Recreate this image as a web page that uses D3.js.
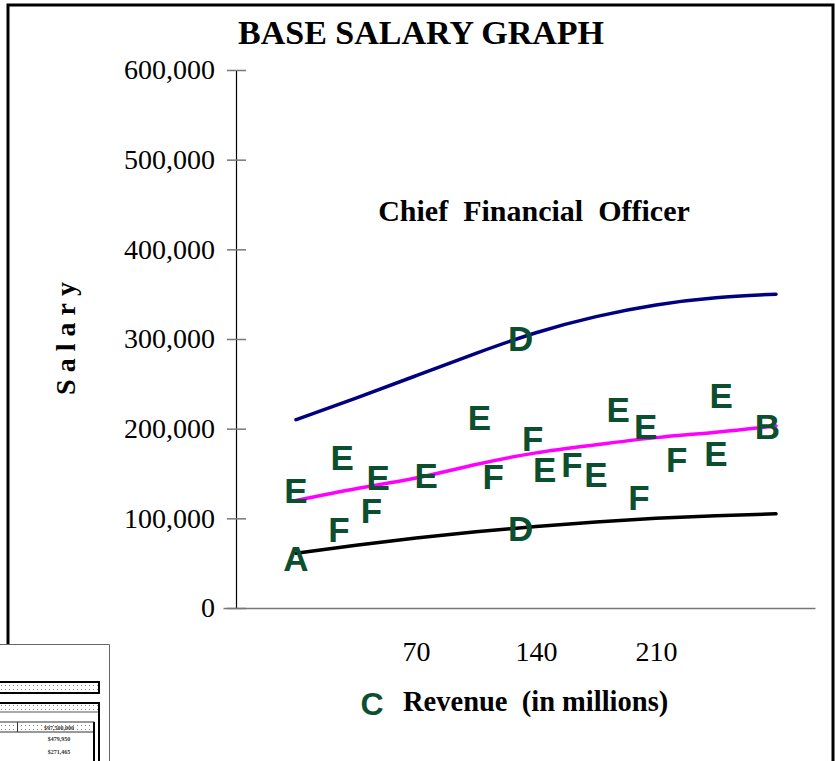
<!DOCTYPE html>
<html>
<head>
<meta charset="utf-8">
<script src="https://cdn.jsdelivr.net/npm/d3@7"></script>
<style>
  html, body { margin: 0; padding: 0; background: #fff; }
  svg { display: block; }
</style>
</head>
<body>
<script>
// ---- data ----
const revenue = [0, 35, 70, 105, 140, 175, 210, 245, 280];
const upperSalary = [210000, 234000, 259000, 284000, 307000, 325000, 338000, 346000, 350000];
const medianSalary = [120000, 133000, 145000, 160000, 173000, 182000, 190000, 196000, 203000];
const lowerSalary = [61000, 70000, 78000, 85000, 91000, 96000, 100000, 103000, 105000];

const eRevenue = [0, 27, 48, 76, 107, 145, 175, 188, 204, 245, 248];
const eSalary = [131000, 168000, 146000, 148000, 213000, 155000, 149000, 222000, 202000, 172000, 237000];
const fRevenue = [25, 44, 115, 138, 161, 200, 222];
const fSalary = [88000, 109000, 147000, 189000, 160000, 123000, 166000];

const yTicks = [0, 100000, 200000, 300000, 400000, 500000, 600000];
const xTicks = [70, 140, 210];

const W = 836, H = 761;
const svg = d3.select("body").append("svg").attr("width", W).attr("height", H);

const x = d3.scaleLinear().domain([0, 280]).range([296, 776]);
const y = d3.scaleLinear().domain([0, 600000]).range([608, 70]);
const serif = "'Liberation Serif', 'Times New Roman', serif";
const sans = "'Liberation Sans', Arial, sans-serif";
const green = "#0b4f2e";

// frame
svg.append("path").attr("d", "M8,644 V5 H833 V761").attr("fill", "none").attr("stroke", "#000").attr("stroke-width", 3);

// inset (bottom-left)
const defs = svg.append("defs");
const pat = defs.append("pattern").attr("id", "dots").attr("width", 4).attr("height", 4).attr("patternUnits", "userSpaceOnUse");
pat.append("rect").attr("width", 4).attr("height", 4).attr("fill", "#fff");
pat.append("rect").attr("x", 1).attr("y", 1).attr("width", 1).attr("height", 1).attr("fill", "#888");
const inset = svg.append("g");
inset.append("path").attr("d", "M0,644.5 H109.5 V761").attr("fill", "none").attr("stroke", "#666").attr("stroke-width", 1);
inset.append("rect").attr("x", -5).attr("y", 682).attr("width", 104).attr("height", 11).attr("fill", "url(#dots)").attr("stroke", "#000").attr("stroke-width", 2);
inset.append("path").attr("d", "M-2,703 H99 V761").attr("fill", "none").attr("stroke", "#000").attr("stroke-width", 2);
inset.append("rect").attr("x", -1).attr("y", 704).attr("width", 99).attr("height", 7).attr("fill", "url(#dots)");
inset.append("line").attr("x1", 0).attr("x2", 98).attr("y1", 712).attr("y2", 712).attr("stroke", "#555").attr("stroke-width", 1);
inset.append("rect").attr("x", -2).attr("y", 722).attr("width", 96).attr("height", 10).attr("fill", "url(#dots)").attr("stroke", "#333").attr("stroke-width", 1);
inset.append("line").attr("x1", 17.5).attr("x2", 17.5).attr("y1", 722).attr("y2", 732).attr("stroke", "#333");
inset.append("line").attr("x1", 94).attr("x2", 94).attr("y1", 722).attr("y2", 761).attr("stroke", "#000").attr("stroke-width", 2);
const insetTxt = [["$97,500,000", 729.5], ["$479,950", 741], ["$271,465", 754]];
inset.selectAll("text.inset").data(insetTxt).join("text")
  .attr("x", 59).attr("y", d => d[1]).attr("text-anchor", "middle")
  .attr("font-family", serif).attr("font-weight", "bold").attr("font-size", 6).attr("fill", "#333")
  .text(d => d[0]);

// title
svg.append("text").attr("x", 421).attr("y", 44).attr("text-anchor", "middle")
  .attr("font-family", serif).attr("font-weight", "bold").attr("font-size", 34).text("BASE SALARY GRAPH");

// y axis
const yAxis = svg.append("g").attr("transform", "translate(236,0)")
  .call(d3.axisLeft(y).tickValues(yTicks).tickFormat(d3.format(",")).tickSize(0).tickPadding(21));
yAxis.select(".domain").attr("stroke", "#000").attr("stroke-width", 1.2);
yAxis.selectAll(".tick line").attr("x1", -9).attr("x2", 10).attr("stroke", "#777").attr("stroke-width", 1.5);
yAxis.selectAll(".tick text").attr("font-family", serif).attr("font-size", 28).attr("fill", "#000");

// x axis (baseline extends beyond data range)
const xAxisScale = d3.scaleLinear().domain([x.invert(223), x.invert(815)]).range([223, 815]);
const xAxis = svg.append("g").attr("transform", "translate(0,608)")
  .call(d3.axisBottom(xAxisScale).tickValues(xTicks).tickSize(0).tickPadding(33));
xAxis.select(".domain").attr("stroke", "#777").attr("stroke-width", 1.5);
xAxis.selectAll(".tick text").attr("font-family", serif).attr("font-size", 28).attr("fill", "#000");

// axis titles
svg.append("text").attr("transform", "translate(75,335) rotate(-90)").attr("text-anchor", "middle")
  .attr("font-family", serif).attr("font-weight", "bold").attr("font-size", 28).attr("letter-spacing", 7)
  .text("Salary");
svg.append("text").attr("x", 403).attr("y", 711)
  .attr("font-family", serif).attr("font-weight", "bold").attr("font-size", 28.5).attr("xml:space", "preserve")
  .text("Revenue  (in millions)");
svg.append("text").attr("x", 372).attr("y", 715).attr("text-anchor", "middle")
  .attr("font-family", sans).attr("font-weight", "bold").attr("font-size", 32).attr("fill", green).text("C");

// subtitle
svg.append("text").attr("x", 534).attr("y", 221).attr("text-anchor", "middle")
  .attr("font-family", serif).attr("font-weight", "bold").attr("font-size", 30).attr("xml:space", "preserve")
  .text("Chief  Financial  Officer");

// lines
const line = d3.line().x(d => x(d[0])).y(d => y(d[1])).curve(d3.curveNatural);
const series = [
  { vals: upperSalary, color: "#000080" },
  { vals: medianSalary, color: "#ff00ff" },
  { vals: lowerSalary, color: "#000000" }
];
svg.selectAll("path.series").data(series).join("path").attr("class", "series")
  .attr("d", s => line(revenue.map((r, i) => [r, s.vals[i]])))
  .attr("fill", "none").attr("stroke", s => s.color).attr("stroke-width", 3.5).attr("stroke-linecap", "round");

// letter markers
function letters(rev, sal, ch) {
  svg.append("g").selectAll("text").data(rev.map((r, i) => [r, sal[i]])).join("text")
    .attr("x", d => x(d[0])).attr("y", d => y(d[1])).attr("dy", "0.36em").attr("text-anchor", "middle")
    .attr("font-family", sans).attr("font-weight", "bold").attr("font-size", 35).attr("fill", green)
    .text(ch);
}
letters(eRevenue, eSalary, "E");
letters(fRevenue, fSalary, "F");
// annotations on the lines
const interp = (arr, r) => d3.scaleLinear().domain(revenue).range(arr)(r);
letters([0], [55000], "A");
letters([275], [interp(medianSalary, 275)], "B");
letters([131], [interp(upperSalary, 131)], "D");
letters([131], [interp(lowerSalary, 131) - 1000], "D");
</script>
</body>
</html>
